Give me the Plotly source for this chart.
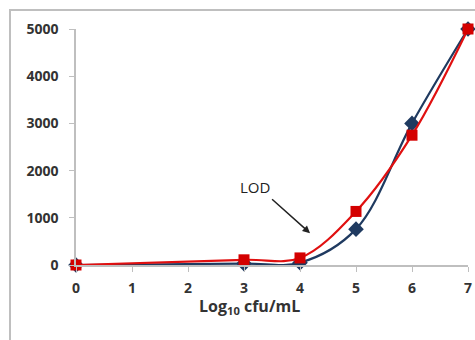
import plotly.graph_objects as go

log_cfu = [0, 3, 4, 5, 6, 7]
series_blue = [0, 30, 50, 760, 3000, 5000]
series_red = [0, 110, 150, 1135, 2750, 5000]
x_ticks = [0, 1, 2, 3, 4, 5, 6, 7]
y_ticks = [0, 1000, 2000, 3000, 4000, 5000]

navy = "#1F3A60"
red = "#D40000"
font_fam = "Open Sans, DejaVu Sans, sans-serif"

fig = go.Figure()
fig.add_trace(go.Scatter(
    x=log_cfu, y=series_blue, mode="lines+markers",
    line=dict(color=navy, width=2.2, shape="spline", smoothing=1.0),
    marker=dict(symbol="diamond", size=12, color=navy),
    cliponaxis=False, showlegend=False))
fig.add_trace(go.Scatter(
    x=log_cfu, y=series_red, mode="lines+markers",
    line=dict(color="#E01010", width=2.2, shape="spline", smoothing=1.0),
    marker=dict(symbol="square", size=11, color=red),
    cliponaxis=False, showlegend=False))

tickfont = dict(family=font_fam, size=14, color="#333333", weight="bold")

W, H = 475, 340
L, T, R, B = 76, 29, 7, 75
plot_w = W - L - R
plot_h = H - T - B

fig.update_layout(
    width=W, height=H,
    margin=dict(l=L, r=R, t=T, b=B, autoexpand=False),
    paper_bgcolor="white", plot_bgcolor="white",
    xaxis=dict(range=[0, 7], tickvals=x_ticks, showgrid=False, zeroline=False,
               showline=True, linecolor="#BFBFBF", linewidth=1.5,
               ticks="outside", ticklen=5, tickcolor="#BFBFBF", automargin=False,
               tickfont=tickfont, ticklabelstandoff=4),
    yaxis=dict(range=[0, 5000], tickvals=y_ticks, showgrid=False, zeroline=False,
               showline=True, linecolor="#BFBFBF", linewidth=1.5,
               ticks="outside", ticklen=5, tickcolor="#BFBFBF", automargin=False,
               tickfont=tickfont, ticklabelstandoff=8),
    shapes=[dict(type="rect", xref="paper", yref="paper",
                 x0=-(L - 10) / plot_w, x1=1.2, y0=-0.6, y1=1 + (T - 10) / plot_h,
                 line=dict(color="#BFBFBF", width=2), fillcolor="rgba(0,0,0,0)",
                 layer="below")],
    annotations=[
        dict(text="Log<sub>10</sub> cfu/mL", xref="x", yref="paper",
             x=3.1, y=-(306 - 265) / plot_h, showarrow=False,
             xanchor="center", yanchor="middle",
             font=dict(family=font_fam, size=16, color="#333333", weight="bold")),
        dict(text="LOD", x=4.18, y=610, ax=272 - 310, ay=202 - 236,
             xref="x", yref="y", showarrow=True, arrowhead=2, arrowsize=1,
             arrowwidth=1.5, arrowcolor="#222222", standoff=0, startstandoff=0,
             font=dict(family=font_fam, size=15, color="#222222"),
             xanchor="right", yanchor="bottom", yshift=3),
    ],
)

fig.write_html("out.html", config={"displayModeBar": False},
               post_script="document.body.style.margin='0px';document.body.style.overflow='hidden';")
